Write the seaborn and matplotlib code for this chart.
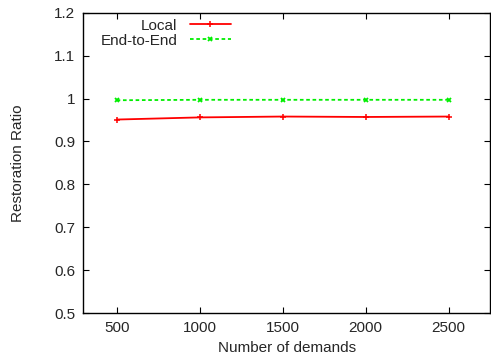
import matplotlib
matplotlib.use("Agg")
import matplotlib.pyplot as plt
import pandas as pd
import seaborn as sns

demands = [500, 1000, 1500, 2000, 2500]
local = [0.951, 0.956, 0.958, 0.957, 0.958]
end_to_end = [0.996, 0.997, 0.997, 0.997, 0.997]
y_ticks = [0.5, 0.6, 0.7, 0.8, 0.9, 1.0, 1.1, 1.2]
y_labels = ["0.5", "0.6", "0.7", "0.8", "0.9", "1", "1.1", "1.2"]

sns.set_style("white")
plt.rcParams["font.family"] = ["Liberation Sans", "DejaVu Sans"]
plt.rcParams["font.size"] = 11

df = pd.DataFrame({"demands": demands, "Local": local, "End-to-End": end_to_end})

fig, ax = plt.subplots(figsize=(4.91, 3.62), dpi=100)
sns.lineplot(data=df, x="demands", y="Local", ax=ax, color="#ff0000",
             linewidth=1.3, marker="+", markersize=5, markeredgewidth=1.1,
             markeredgecolor="#ff0000", label="Local")
sns.lineplot(data=df, x="demands", y="End-to-End", ax=ax, color="#00ee00",
             linewidth=1.3, linestyle=(0, (2, 1.5)), marker="x", markersize=3.5,
             markeredgewidth=1.3, markeredgecolor="#00ee00", label="End-to-End")

ax.set_xlim(300, 2750)
ax.set_ylim(0.5, 1.2)
ax.set_xticks(demands)
ax.set_yticks(y_ticks)
ax.set_yticklabels(y_labels)
ax.tick_params(direction="in", bottom=True, left=True, top=True, right=True,
               length=4, width=0.8, labelsize=11, pad=6, color="black")
for s in ax.spines.values():
    s.set_linewidth(1.0)
    s.set_color("black")
ax.set_xlabel("Number of demands", fontsize=11)
ax.set_ylabel("Restoration Ratio", fontsize=11, labelpad=21)

leg = ax.legend(loc="upper right", bbox_to_anchor=(0.378, 1.0), frameon=False,
                markerfirst=False, handlelength=2.7, fontsize=11,
                handletextpad=0.8, labelspacing=0.05, borderaxespad=0.0)
for t in leg.get_texts():
    t.set_ha("right")
leg._legend_box.align = "right"

fig.subplots_adjust(left=0.17, right=0.998, top=0.965, bottom=0.135)
fig.savefig("out.png", dpi=100)
